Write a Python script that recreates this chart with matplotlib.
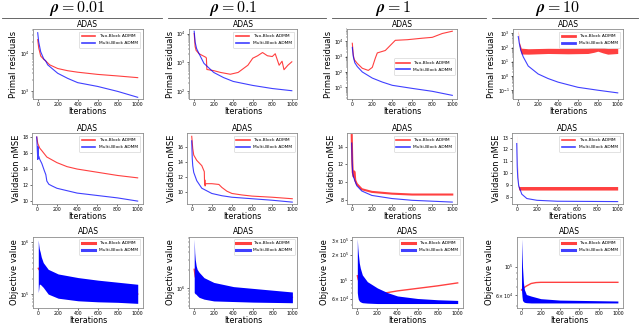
import matplotlib
matplotlib.use("Agg")
import matplotlib.pyplot as plt
from matplotlib.lines import Line2D
from matplotlib.ticker import NullFormatter
import numpy as np

RHOS = ["0.01", "0.1", "1", "10"]
TWO = "Two-Block ADMM"
MULTI = "Multi-Block ADMM"
RED = "#ff0000"
BLUE = "#0000ff"

# ---------------- primal residuals (log scale) ----------------
pr_001_two_x = [0, 10, 30, 60, 75, 120, 200, 300, 400, 600, 800, 1000]
pr_001_two = [2.3e4, 1.4e4, 8.5e3, 7.0e3, 6.5e3, 5.0e3, 4.0e3, 3.5e3, 3.2e3, 2.8e3, 2.55e3, 2.3e3]
pr_001_multi_x = [0, 10, 30, 60, 75, 80, 100, 200, 300, 400, 600, 800, 1000]
pr_001_multi = [3.5e4, 2.0e4, 1.1e4, 7.2e3, 6.5e3, 6.3e3, 5.0e3, 3.0e3, 2.2e3, 1.7e3, 1.35e3, 1.0e3, 7.0e2]

pr_01_two_x = [0, 10, 20, 50, 120, 125, 130, 200, 270, 370, 450, 500, 550, 600, 650,
               700, 750, 800, 830, 870, 900, 920, 960, 1000]
pr_01_two = [1.0e4, 3.5e3, 2.6e3, 2.0e3, 1.5e3, 1.4e3, 570, 520, 450, 390, 450, 600, 800,
             1.4e3, 1.7e3, 2.2e3, 1.7e3, 1.6e3, 2.0e3, 800, 1.1e3, 560, 800, 1.05e3]
pr_01_multi_x = [0, 10, 25, 50, 100, 200, 300, 400, 600, 800, 1000]
pr_01_multi = [1.2e4, 5.0e3, 3.0e3, 2.0e3, 930, 450, 300, 220, 160, 125, 105]

pr_1_two_x = [0, 10, 20, 50, 100, 160, 200, 230, 250, 330, 430, 550, 700, 800, 900, 1000]
pr_1_two = [7.4e3, 1.26e3, 630, 360, 174, 126, 200, 790, 1.74e3, 2.5e3, 1.15e4, 1.26e4,
            1.58e4, 1.8e4, 3.2e4, 4.5e4]
pr_1_multi_x = [0, 10, 25, 50, 100, 200, 300, 400, 600, 800, 1000]
pr_1_multi = [4000, 1000, 400, 224, 100, 40, 22, 13.5, 8.5, 5.5, 3.0]

pr_10_two_x = [0, 10, 30, 100, 300, 500, 700, 760, 800, 850, 900, 1000]
pr_10_two_lo = [1000, 126, 35, 34, 38, 36, 38, 46, 55, 42, 34, 38]
pr_10_two_hi = [1600, 250, 90, 82, 88, 86, 92, 115, 140, 105, 86, 90]
pr_10_multi_x = [0, 10, 25, 50, 100, 200, 300, 400, 600, 800, 1000]
pr_10_multi = [590, 200, 63, 22, 5.0, 1.38, 0.66, 0.37, 0.16, 0.10, 0.065]

# ---------------- validation nMSE (linear) ----------------
vm_001_two_x = [0, 10, 30, 50, 100, 200, 300, 400, 600, 800, 1000]
vm_001_two = [18.0, 17.2, 16.6, 16.3, 15.5, 14.8, 14.3, 14.0, 13.6, 13.2, 12.9]
vm_001_multi_x = [0, 5, 10, 12, 15, 20, 30, 50, 75, 90, 100, 120, 150, 200, 300, 400, 600, 800, 1000]
vm_001_multi = [18.0, 16.5, 15.2, 16.8, 15.3, 15.6, 15.2, 14.7, 13.8, 13.3, 12.5, 12.1, 11.9,
                11.6, 11.3, 11.0, 10.7, 10.4, 10.0]

vm_01_two_x = [0, 10, 20, 50, 100, 125, 128, 130, 133, 140, 200, 270, 300, 350, 400, 500,
               600, 800, 1000]
vm_01_two = [17.4, 15.8, 14.9, 14.2, 13.5, 12.7, 11.0, 11.6, 10.8, 11.1, 11.1, 11.0, 10.6,
             10.1, 9.8, 9.6, 9.45, 9.3, 9.1]
vm_01_multi_x = [0, 5, 10, 20, 50, 100, 200, 300, 400, 600, 800, 1000]
vm_01_multi = [16.8, 14.5, 13.5, 12.6, 11.5, 10.5, 9.8, 9.5, 9.3, 9.1, 8.9, 8.65]

vm_1_two_x = [0, 5, 10, 20, 25, 30, 35, 50, 100, 200, 400, 600, 800, 1000]
vm_1_two = [15.3, 12.5, 11.1, 10.6, 11.2, 10.9, 10.2, 9.8, 9.2, 8.9, 8.7, 8.6, 8.6, 8.6]
vm_1_multi_x = [0, 5, 10, 20, 50, 100, 200, 400, 600, 800, 1000]
vm_1_multi = [14.4, 12.0, 11.0, 10.5, 9.6, 9.0, 8.5, 8.15, 7.95, 7.85, 7.75]

vm_10_two_x = [0, 5, 10, 15, 20, 50, 1000]
vm_10_two_lo = [13.1, 11.0, 9.5, 8.8, 8.55, 8.55, 8.55]
vm_10_two_hi = [13.25, 11.5, 10.0, 9.1, 8.85, 8.85, 8.85]
vm_10_multi_x = [0, 5, 10, 20, 50, 100, 200, 400, 1000]
vm_10_multi = [12.5, 10.5, 9.6, 8.9, 8.2, 7.83, 7.68, 7.6, 7.57]

# ---------------- objective value (log10 of value) ----------------
ob_001_x = [0, 5, 10, 20, 30, 50, 100, 200, 400, 600, 800, 1000]
ob_001_hi = [6.05, 5.95, 5.88, 5.81, 5.72, 5.61, 5.48, 5.39, 5.32, 5.27, 5.23, 5.19]
ob_001_lo = [5.03, 5.10, 5.19, 5.19, 5.17, 5.13, 5.00, 4.92, 4.87, 4.85, 4.84, 4.82]
ob_001_two_x = [0, 50, 200, 1000]
ob_001_two = [5.5, 5.35, 5.15, 5.0]

ob_01_x = [0, 5, 10, 20, 30, 50, 100, 200, 400, 600, 800, 1000]
ob_01_hi = [6.83, 6.60, 6.49, 6.38, 6.32, 6.27, 6.18, 6.10, 6.03, 6.00, 5.97, 5.94]
ob_01_lo = [5.93, 5.92, 5.91, 5.90, 5.88, 5.85, 5.82, 5.79, 5.78, 5.77, 5.765, 5.76]
ob_01_two_x = [0, 10, 50, 1000]
ob_01_two = [6.32, 6.2, 6.0, 5.85]

ob_1_x = [0, 5, 10, 20, 30, 50, 100, 200, 300, 400, 600, 800, 1000]
ob_1_hi = [5.49, 5.38, 5.31, 5.20, 5.14, 5.06, 4.98, 4.905, 4.85, 4.81, 4.78, 4.765, 4.757]
ob_1_lo = [4.85, 4.80, 4.77, 4.75, 4.74, 4.73, 4.725, 4.72, 4.72, 4.72, 4.72, 4.72, 4.72]
ob_1_two_x = [0, 10, 50, 100, 200, 250, 400, 600, 800, 1000]
ob_1_two = [5.05, 5.0, 4.95, 4.9, 4.86, 4.84, 4.87, 4.9, 4.93, 4.965]

ob_10_x = [0, 5, 10, 20, 30, 50, 100, 200, 400, 1000]
ob_10_hi = [5.215, 5.10, 5.00, 4.874, 4.823, 4.785, 4.773, 4.753, 4.742, 4.735]
ob_10_lo = [4.82, 4.77, 4.74, 4.73, 4.725, 4.722, 4.72, 4.72, 4.72, 4.72]
ob_10_two_x = [0, 20, 50, 100, 150, 200, 1000]
ob_10_two = [4.82, 4.835, 4.85, 4.87, 4.877, 4.879, 4.879]

# axes frames in pixels: (left, right), per row (top, bottom)
W, H = 640, 324
row_y = [(29.3, 99.3), (133.3, 204.3), (236.5, 307.5)]
col_x = [
    [(32.7, 142.7), (189.3, 296.7), (347.3, 457.3), (513.3, 622.7)],
    [(31.7, 142.7), (186.7, 297.3), (346.7, 457.3), (511.7, 622.7)],
    [(33.3, 142.7), (189.3, 297.3), (352.3, 462.7), (516.7, 622.7)],
]


def make_ax(fig, r, c):
    (x0, x1), (y0, y1) = col_x[r][c], row_y[r]
    ax = fig.add_axes([x0 / W, 1 - y1 / H, (x1 - x0) / W, (y1 - y0) / H])
    for s in ax.spines.values():
        s.set_color("0.55")
        s.set_linewidth(0.6)
    ax.tick_params(labelsize=3.3, length=1.5, width=0.4, pad=0.8)
    ax.tick_params(which="minor", length=1.0, width=0.3)
    ax.set_xlim(-50, 1050)
    ax.set_xticks([0, 200, 400, 600, 800, 1000])
    ax.set_title("ADAS", fontsize=5.5, pad=2)
    ax.set_xlabel("Iterations", fontsize=5.8, labelpad=0)
    return ax


def log_ticks(ax, vals, labels, lims):
    ax.set_yscale("log")
    ax.set_ylim(*lims)
    ax.set_yticks(vals, labels)
    ax.yaxis.set_minor_formatter(NullFormatter())


def add_legend(ax, lw=1.2, loc="upper right", anchor=None):
    handles = [Line2D([], [], color=RED, lw=lw, alpha=0.75),
               Line2D([], [], color=BLUE, lw=lw, alpha=0.75)]
    kw = {}
    if anchor is not None:
        kw["bbox_to_anchor"] = anchor
    leg = ax.legend(handles, [TWO, MULTI], loc=loc, fontsize=3.2, handlelength=3,
                    borderpad=0.6, labelspacing=0.6, framealpha=1, **kw)
    leg.get_frame().set_edgecolor("0.8")
    leg.get_frame().set_linewidth(0.4)
    leg.set_zorder(5)


fig = plt.figure(figsize=(6.4, 3.24), dpi=100)

# column headers
head_x = [77, 233, 393, 557]
head_seg = [(2, 162), (168, 326), (332, 486), (492, 638)]
for rho, hx, (s0, s1) in zip(RHOS, head_x, head_seg):
    fig.text(hx / W, 1 - 8.5 / H, r"$\boldsymbol{\rho = " + rho + "}$", fontsize=11.5,
             ha="center", va="center", math_fontfamily="cm")
    fig.add_artist(Line2D([s0 / W, s1 / W], [1 - 17.5 / H, 1 - 17.5 / H], color="0.3", lw=0.6))

# ---- row 1: primal residuals ----
ax = make_ax(fig, 0, 0)
ax.plot(pr_001_two_x, pr_001_two, color=RED, lw=0.8, alpha=0.75)
ax.plot(pr_001_multi_x, pr_001_multi, color=BLUE, lw=0.8, alpha=0.75)
log_ticks(ax, [1e3, 1e4], [r"$10^{3}$", r"$10^{4}$"], (620, 4.3e4))
ax.set_ylabel("Primal residuals", fontsize=6, labelpad=1)
add_legend(ax)

ax = make_ax(fig, 0, 1)
ax.plot(pr_01_two_x, pr_01_two, color=RED, lw=0.8, alpha=0.75)
ax.plot(pr_01_multi_x, pr_01_multi, color=BLUE, lw=0.8, alpha=0.75)
log_ticks(ax, [1e2, 1e3, 1e4], [r"$10^{2}$", r"$10^{3}$", r"$10^{4}$"], (53, 1.4e4))
ax.set_ylabel("Primal residuals", fontsize=6, labelpad=1)
add_legend(ax)

ax = make_ax(fig, 0, 2)
ax.plot(pr_1_two_x, pr_1_two, color=RED, lw=0.8, alpha=0.75)
ax.plot(pr_1_multi_x, pr_1_multi, color=BLUE, lw=0.8, alpha=0.75)
log_ticks(ax, [1e1, 1e2, 1e3, 1e4], [r"$10^{1}$", r"$10^{2}$", r"$10^{3}$", r"$10^{4}$"],
          (1.66, 6.0e4))
ax.set_ylabel("Primal residuals", fontsize=6, labelpad=1)
add_legend(ax, loc="center right", anchor=(1.0, 0.47))

ax = make_ax(fig, 0, 3)
ax.fill_between(pr_10_two_x, pr_10_two_lo, pr_10_two_hi, color=RED, lw=0, alpha=0.75)
ax.plot(pr_10_multi_x, pr_10_multi, color=BLUE, lw=0.8, alpha=0.75)
log_ticks(ax, [1e-1, 1e0, 1e1, 1e2, 1e3],
          [r"$10^{-1}$", r"$10^{0}$", r"$10^{1}$", r"$10^{2}$", r"$10^{3}$"], (0.023, 1900))
ax.set_ylabel("Primal residuals", fontsize=6, labelpad=1)
add_legend(ax, lw=2)

# ---- row 2: validation nMSE ----
ax = make_ax(fig, 1, 0)
ax.plot(vm_001_two_x, vm_001_two, color=RED, lw=0.8, alpha=0.75)
ax.plot(vm_001_multi_x, vm_001_multi, color=BLUE, lw=0.8, alpha=0.75)
ax.set_ylim(9.6, 18.46)
ax.set_yticks([10, 12, 14, 16, 18])
ax.set_ylabel("Validation nMSE", fontsize=6, labelpad=1)
add_legend(ax)

ax = make_ax(fig, 1, 1)
ax.plot(vm_01_two_x, vm_01_two, color=RED, lw=0.8, alpha=0.75)
ax.plot(vm_01_multi_x, vm_01_multi, color=BLUE, lw=0.8, alpha=0.75)
ax.set_ylim(8.36, 17.8)
ax.set_yticks([10, 12, 14, 16])
ax.set_ylabel("Validation nMSE", fontsize=6, labelpad=1)
add_legend(ax)

ax = make_ax(fig, 1, 2)
ax.plot(vm_1_two_x, vm_1_two, color=RED, lw=1.5, alpha=0.75)
ax.plot(vm_1_multi_x, vm_1_multi, color=BLUE, lw=0.8, alpha=0.75)
ax.set_ylim(7.5, 15.5)
ax.set_yticks([8, 10, 12, 14])
ax.set_ylabel("Validation nMSE", fontsize=6, labelpad=1)
add_legend(ax)

ax = make_ax(fig, 1, 3)
ax.fill_between(vm_10_two_x, vm_10_two_lo, vm_10_two_hi, color=RED, lw=0, alpha=0.75)
ax.plot(vm_10_multi_x, vm_10_multi, color=BLUE, lw=0.8, alpha=0.75)
ax.set_ylim(7.34, 13.37)
ax.set_yticks([8, 9, 10, 11, 12, 13])
ax.set_ylabel("Validation nMSE", fontsize=6, labelpad=1)
add_legend(ax)

# ---- row 3: objective value ----
obj_panels = [
    (ob_001_x, ob_001_lo, ob_001_hi, ob_001_two_x, ob_001_two,
     [1e5, 1e6], [r"$10^{5}$", r"$10^{6}$"], (10 ** 4.74, 10 ** 6.116)),
    (ob_01_x, ob_01_lo, ob_01_hi, ob_01_two_x, ob_01_two,
     [1e6], [r"$10^{6}$"], (10 ** 5.68, 10 ** 6.87)),
    (ob_1_x, ob_1_lo, ob_1_hi, ob_1_two_x, ob_1_two,
     [6e4, 1e5, 2e5, 3e5],
     [r"$6\times10^{4}$", r"$10^{5}$", r"$2\times10^{5}$", r"$3\times10^{5}$"],
     (10 ** 4.673, 10 ** 5.516)),
    (ob_10_x, ob_10_lo, ob_10_hi, ob_10_two_x, ob_10_two,
     [6e4, 1e5], [r"$6\times10^{4}$", r"$10^{5}$"], (10 ** 4.685, 10 ** 5.232)),
]
for c, (bx, lo, hi, rx, ry, tv, tl, lims) in enumerate(obj_panels):
    ax = make_ax(fig, 2, c)
    ax.plot(rx, 10 ** np.array(ry), color=RED, lw=1.0, alpha=0.75, zorder=1)
    ax.fill_between(bx, 10 ** np.array(lo), 10 ** np.array(hi), color=BLUE, lw=0, zorder=2)
    log_ticks(ax, tv, tl, lims)
    ax.set_ylabel("Objective value", fontsize=6, labelpad=1)
    add_legend(ax, lw=2.2)

fig.savefig("out.png", dpi=100)
